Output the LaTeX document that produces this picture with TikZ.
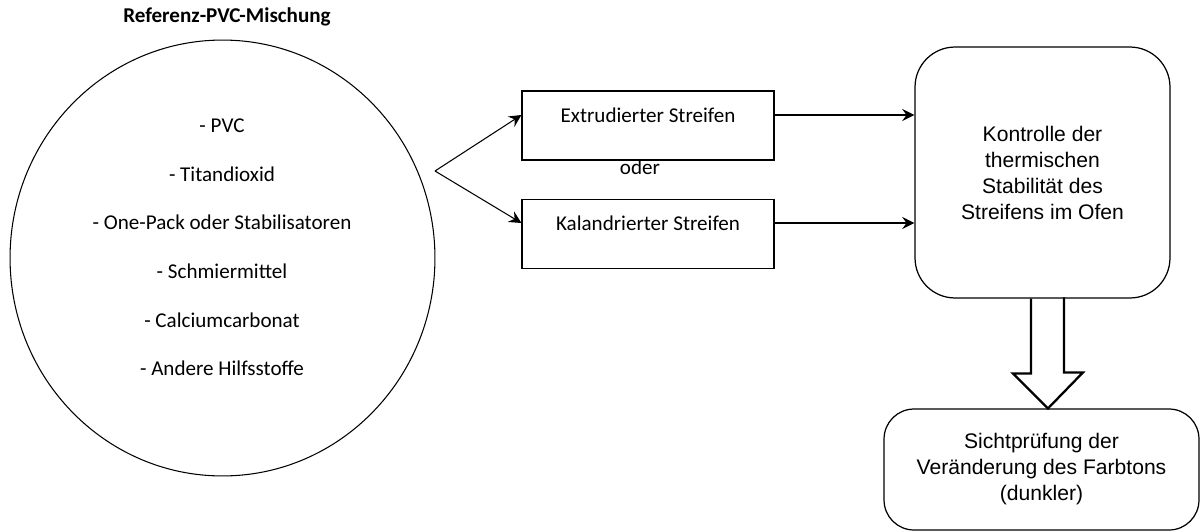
\documentclass[tikz,border=0pt]{standalone}
\usepackage{fontspec}
\setmainfont{Carlito}
\newfontfamily\helvfont{Liberation Sans}
\usetikzlibrary{arrows.meta,calc,shapes.geometric}
\begin{document}
\begin{tikzpicture}[x=0.02cm,y=-0.02cm,
every node/.style={font=\fontsize{12}{14.5}\selectfont},
stripbox/.style={draw=black, line width=0.7pt, minimum width=5.04cm, minimum height=1.38cm},
roundbox/.style={draw=black, line width=0.7pt, align=center, inner sep=0pt, font=\helvfont\fontsize{12}{14.8}\selectfont},
conn/.style={draw=black, line width=0.6pt, -{Stealth[length=7pt, width=7pt, inset=2.5pt]}},
fatarrow/.style={draw=black, line width=1.3pt, line join=miter}]
\useasboundingbox (0,0) rectangle (1200,531);
% mixture
\draw (227,17) node[font=\bfseries\fontsize{12}{14.5}\selectfont](title){Referenz-PVC-Mischung}
(222.5,258) node[draw=black, line width=0.6pt, ellipse, minimum width=8.5cm, minimum height=8.72cm](mix){}
(222,247.5) node[align=center, font=\fontsize{12}{27.7}\selectfont](list){- PVC\\- Titandioxid\\- One-Pack oder Stabilisatoren\\- Schmiermittel\\- Calciumcarbonat\\- Andere Hilfsstoffe};
% strips
\draw (648,125.5) node[stripbox](ex){}
(648,115) node(exT){Extrudierter Streifen}
(648,234) node[stripbox](kal){}
(648,223) node(kalT){Kalandrierter Streifen}
(640,167) node(oder){oder};
\coordinate (fork) at (435,171);
\draw [conn] (fork)--(ex.west |- exT);
\draw [conn] (fork)--(kal.west |- kalT);
% oven test and visual check
\draw (1042.5,172.5) node[roundbox, rounded corners=0.8cm, minimum width=5.1cm, minimum height=5.02cm](ctl){Kontrolle der\\thermischen\\Stabilit\"at des\\Streifens im Ofen}
(1041.5,469.5) node[roundbox, rounded corners=0.6cm, minimum width=6.3cm, minimum height=2.42cm](vis){Sichtpr\"ufung der\\Ver\"anderung des Farbtons\\(dunkler)};
\draw [conn] (ex.east |- exT)--(ctl.west |- exT);
\draw [conn] (kal.east |- kalT)--(ctl.west |- kalT);
\draw [fatarrow] ($(ctl.south)+(-11.5,0)$)--++(0,75)--++(-18,0)--($(vis.north)+(6.5,0)$)--++(35,-36)--++(-19,0)--++(0,-75);
\end{tikzpicture}
\end{document}
